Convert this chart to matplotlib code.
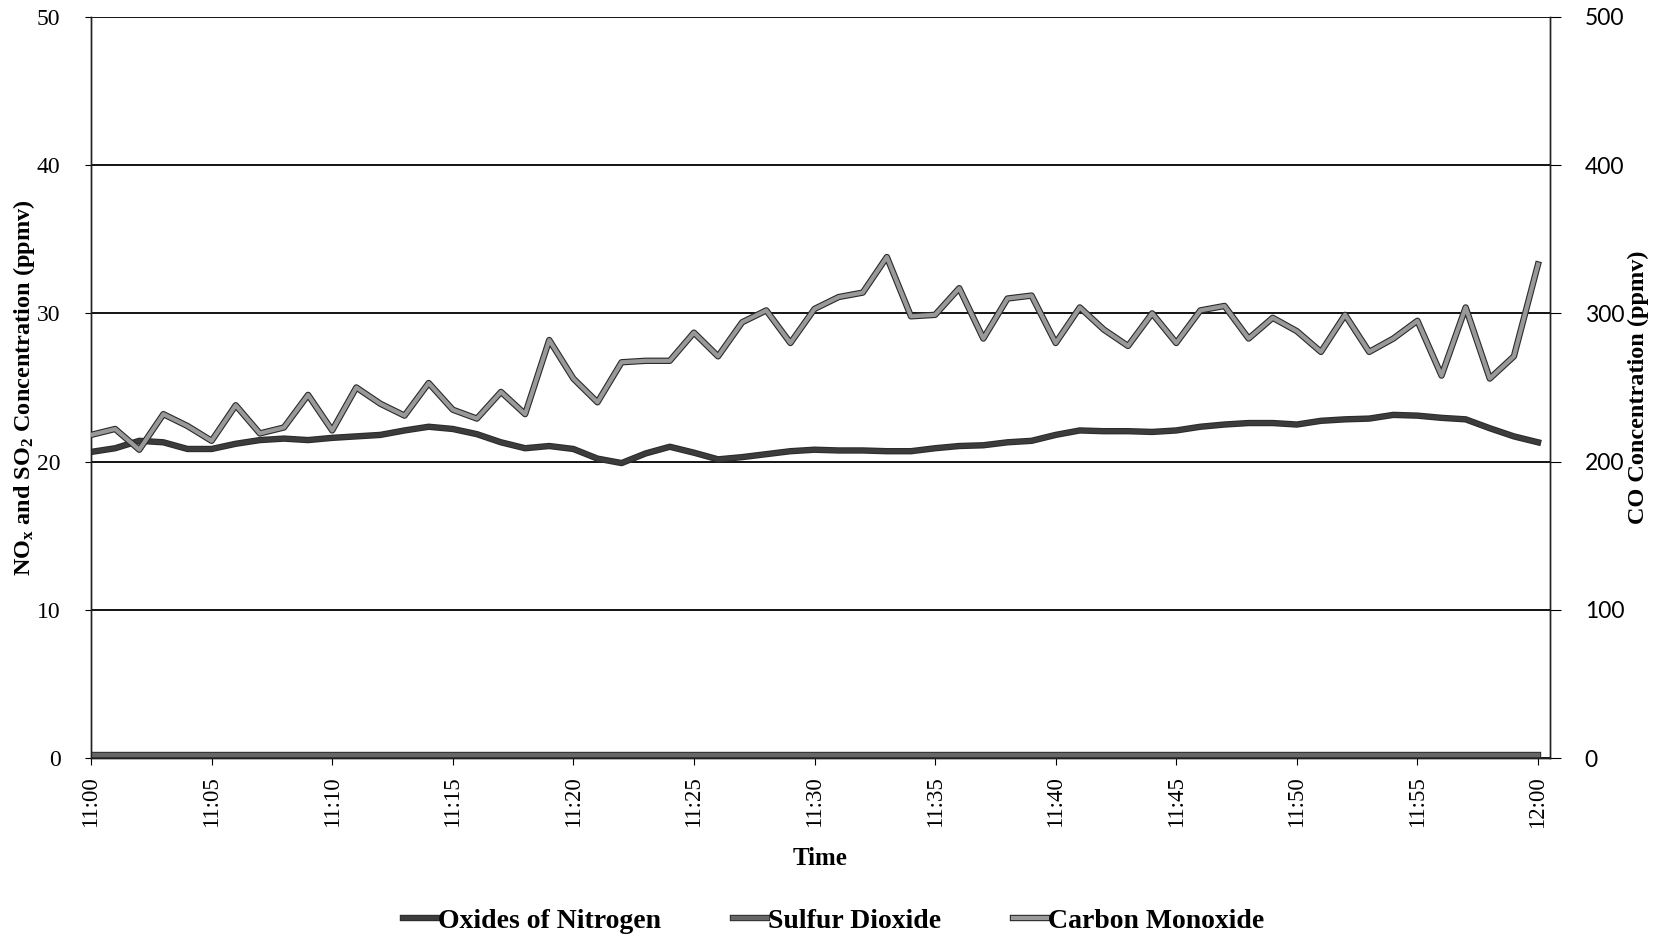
import matplotlib
matplotlib.use("Agg")
import matplotlib.pyplot as plt
import matplotlib.patheffects as pe
from matplotlib.font_manager import FontProperties

plt.rcParams['font.family'] = ['Liberation Serif', 'DejaVu Serif']
plt.rcParams['mathtext.default'] = 'regular'

# minutes after 11:00
minutes = list(range(61))

nox = [20.65, 20.9, 21.4, 21.3, 20.85, 20.85, 21.2, 21.45, 21.55, 21.45,
       21.6, 21.7, 21.8, 22.1, 22.35, 22.2, 21.85, 21.3, 20.9, 21.05,
       20.85, 20.2, 19.9, 20.55, 21.0, 20.6, 20.15, 20.3, 20.5, 20.7,
       20.8, 20.75, 20.75, 20.7, 20.7, 20.9, 21.05, 21.1, 21.3, 21.4,
       21.8, 22.1, 22.05, 22.05, 22.0, 22.1, 22.35, 22.5, 22.6, 22.6,
       22.5, 22.75, 22.85, 22.9, 23.15, 23.1, 22.95, 22.85, 22.25, 21.7,
       21.3]

so2 = [0.2, 0.2, 0.2, 0.2, 0.2, 0.2, 0.2, 0.2, 0.2, 0.2,
       0.2, 0.2, 0.2, 0.2, 0.2, 0.2, 0.2, 0.2, 0.2, 0.2,
       0.2, 0.2, 0.2, 0.2, 0.2, 0.2, 0.2, 0.2, 0.2, 0.2,
       0.2, 0.2, 0.2, 0.2, 0.2, 0.2, 0.2, 0.2, 0.2, 0.2,
       0.2, 0.2, 0.2, 0.2, 0.2, 0.2, 0.2, 0.2, 0.2, 0.2,
       0.2, 0.2, 0.2, 0.2, 0.2, 0.2, 0.2, 0.2, 0.2, 0.2,
       0.2]

co = [218, 222, 208, 232, 224, 214, 238, 219, 223, 245,
      221, 250, 239, 231, 253, 235, 229, 247, 232, 282,
      256, 240, 267, 268, 268, 287, 271, 294, 302, 280,
      303, 311, 314, 338, 298, 299, 317, 283, 310, 312,
      280, 304, 289, 278, 300, 280, 302, 305, 283, 297,
      288, 274, 299, 274, 283, 295, 258, 304, 256, 271,
      333]

tick_pos = [0, 5, 10, 15, 20, 25, 30, 35, 40, 45, 50, 55, 60]
tick_labels = ['11:00', '11:05', '11:10', '11:15', '11:20', '11:25', '11:30',
               '11:35', '11:40', '11:45', '11:50', '11:55', '12:00']
left_ticks = [0, 10, 20, 30, 40, 50]
right_ticks = [0, 100, 200, 300, 400, 500]

fig = plt.figure(figsize=(16.58, 9.40), dpi=100)
ax = fig.add_axes([0.0549, 0.1936, 0.880, 0.7884])
ax2 = ax.twinx()

outline = [pe.Stroke(linewidth=4.6, foreground='#2a2a2a'), pe.Normal()]

l1, = ax.plot(minutes, nox, color='#3c3c3c', lw=3.2, path_effects=outline,
              label='Oxides of Nitrogen', zorder=3)
l2, = ax.plot(minutes, so2, color='#666666', lw=3.2, path_effects=outline,
              label='Sulfur Dioxide', zorder=3)
l3, = ax2.plot(minutes, co, color='#999999', lw=3.0, path_effects=outline,
               label='Carbon Monoxide', zorder=3)

ax.set_xlim(0, 60.5)
ax.set_ylim(0, 50)
ax2.set_ylim(0, 500)
ax.yaxis.grid(True, color='black', lw=1.3)
ax.set_axisbelow(True)

serif_tick = FontProperties(family='Liberation Serif', size=16.5)
serif_y = FontProperties(family='Liberation Serif', size=17)
sans_y = FontProperties(family='Lato', size=16.5)

ax.set_xticks(tick_pos)
ax.set_xticklabels(tick_labels, rotation=90, fontproperties=serif_tick)
ax.set_yticks(left_ticks)
ax.set_yticklabels([str(v) for v in left_ticks], fontproperties=serif_y)
ax2.set_yticks(right_ticks)
ax2.set_yticklabels([str(v) for v in right_ticks], fontproperties=sans_y)

ax.tick_params(axis='x', which='major', length=5, direction='out', pad=8)
ax.tick_params(axis='y', length=4, direction='out', pad=18)
ax2.tick_params(axis='y', length=8, direction='out', pad=17)

for a in (ax, ax2):
    a.spines['top'].set_visible(False)
    for s in ('left', 'right', 'bottom'):
        a.spines[s].set_linewidth(1.0)
        a.spines[s].set_color('#222222')

ax.set_xlabel('Time', fontsize=18, fontweight='bold', labelpad=14)
ax.set_ylabel('NO$_{x}$ and SO$_{2}$ Concentration (ppmv)', fontsize=17.5,
              fontweight='bold')
ax2.set_ylabel('CO Concentration (ppmv)', fontsize=17.5, fontweight='bold')
ax.yaxis.set_label_coords(-0.037, 0.5)
ax2.yaxis.set_label_coords(1.053, 0.5)

fig.legend(handles=[l1, l2, l3], loc='center', bbox_to_anchor=(0.503, 0.02),
           ncol=3, frameon=False, handlelength=1.2, handletextpad=0.05,
           columnspacing=2.6, prop={'size': 20, 'weight': 'bold'})

fig.savefig('out.png', dpi=100)
